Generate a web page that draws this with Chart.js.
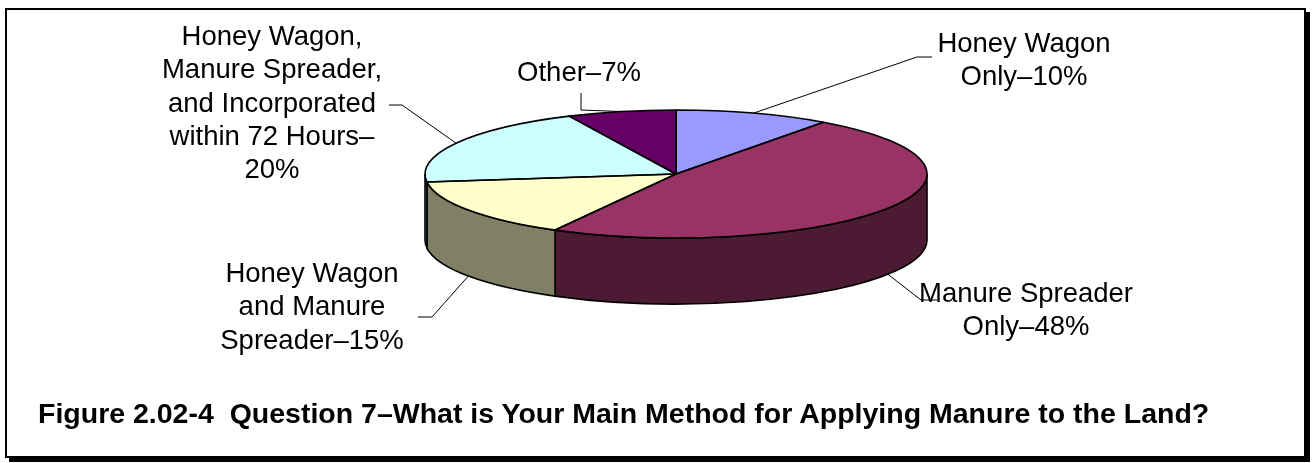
<!DOCTYPE html>
<html>
<head>
<meta charset="utf-8">
<script src="https://cdn.jsdelivr.net/npm/chart.js@4"></script>
<style>
html, body { margin: 0; padding: 0; background: #fff; }
#wrap { position: relative; width: 1312px; height: 463px; overflow: hidden; }
#box { position: absolute; left: 5px; top: 8px; width: 1297px; height: 446px; border: 2px solid #000; box-shadow: 4px 4px 0 #000; }
#chart { position: absolute; left: 0; top: 0; }
#caption { position: absolute; left: 38px; top: 397px; font: bold 28.5px "Liberation Sans", Arial, sans-serif; line-height: 32px; white-space: pre; color: #000; }
</style>
</head>
<body>
<div id="wrap">
  <div id="box"></div>
  <canvas id="chart" width="1312" height="463"></canvas>
  <div id="caption">Figure 2.02-4  Question 7–What is Your Main Method for Applying Manure to the Land?</div>
</div>
<script>
// dữ liệu
const categories = [
    "Honey Wagon Only",
    "Manure Spreader Only",
    "Honey Wagon and Manure Spreader",
    "Honey Wagon, Manure Spreader, and Incorporated within 72 Hours",
    "Other"
];
const percents = [10, 48, 15, 20, 7];
const sliceColors = ["#9999FF", "#993366", "#FFFFCC", "#CCFFFF", "#660066"];
// nhãn như in trên hình, {v} = giá trị
const labelLines = [
    ["Honey Wagon", "Only–{v}%"],
    ["Manure Spreader", "Only–{v}%"],
    ["Honey Wagon", "and Manure", "Spreader–{v}%"],
    ["Honey Wagon,", "Manure Spreader,", "and Incorporated", "within 72 Hours–", "{v}%"],
    ["Other–{v}%"]
];

// vị trí nhãn và đường dẫn
const labelSpots = [
    { x: 1024, y: 52, path: [[917, 57], [932, 57]] },
    { x: 1026, y: 302, path: [[921, 300], [937, 300]] },
    { x: 312, y: 282, path: [[432, 317], [418, 317]] },
    { x: 272, y: 45, path: [[402, 105], [389, 105]] },
    { x: 579, y: 81, path: [[581, 110], [581, 93]] }
];
const depth = 66;
const lineGap = 33.3;

function shade(hex) {
    const n = parseInt(hex.slice(1), 16);
    const r = (n >> 16) & 255, g = (n >> 8) & 255, b = n & 255;
    return "rgb(" + Math.round(r / 2) + "," + Math.round(g / 2) + "," + Math.round(b / 2) + ")";
}

function geom(chart) {
    const arcs = chart.getDatasetMeta(0).data;
    const area = chart.chartArea;
    return {
        arcs: arcs,
        cx: arcs[0].x,
        cy: arcs[0].y,
        ry: arcs[0].outerRadius,
        rx: (area.right - area.left) / 2
    };
}

const pie3d = {
    id: "pie3d",
    beforeDatasetsDraw(chart) {
        const ctx = chart.ctx;
        const g = geom(chart);
        // mặt bên phía trước
        g.arcs.forEach((arc, i) => {
            const a0 = Math.max(arc.startAngle, 0);
            const a1 = Math.min(arc.endAngle, Math.PI);
            if (a1 <= a0) return;
            ctx.beginPath();
            ctx.ellipse(g.cx, g.cy, g.rx, g.ry, 0, a0, a1);
            ctx.ellipse(g.cx, g.cy + depth, g.rx, g.ry, 0, a1, a0, true);
            ctx.closePath();
            ctx.fillStyle = shade(sliceColors[i]);
            ctx.fill();
            ctx.lineWidth = 1.6;
            ctx.strokeStyle = "#000";
            ctx.stroke();
        });
        // kéo giãn hình tròn thành elip
        ctx.save();
        ctx.translate(g.cx, g.cy);
        ctx.scale(g.rx / g.ry, 1);
        ctx.translate(-g.cx, -g.cy);
    },
    afterDatasetsDraw(chart) {
        const ctx = chart.ctx;
        ctx.restore();
        const g = geom(chart);
        // viền mặt trên
        ctx.lineWidth = 1.6;
        ctx.strokeStyle = "#000";
        ctx.lineJoin = "round";
        g.arcs.forEach(arc => {
            ctx.beginPath();
            ctx.moveTo(g.cx, g.cy);
            ctx.ellipse(g.cx, g.cy, g.rx, g.ry, 0, arc.startAngle, arc.endAngle);
            ctx.closePath();
            ctx.stroke();
        });
        // nhãn + đường dẫn
        ctx.font = '27.5px "Liberation Sans", Arial, sans-serif';
        ctx.textAlign = "center";
        ctx.textBaseline = "alphabetic";
        ctx.fillStyle = "#000";
        ctx.lineWidth = 1;
        g.arcs.forEach((arc, i) => {
            const spot = labelSpots[i];
            labelLines[i].forEach((t, k) => {
                ctx.fillText(t.replace("{v}", percents[i]), spot.x, spot.y + k * lineGap);
            });
            const mid = (arc.startAngle + arc.endAngle) / 2;
            let sx = g.cx + g.rx * Math.cos(mid);
            let sy = g.cy + g.ry * Math.sin(mid);
            if (Math.sin(mid) > 0) sy += depth;
            ctx.beginPath();
            ctx.moveTo(sx, sy);
            spot.path.forEach(p => ctx.lineTo(p[0], p[1]));
            ctx.stroke();
        });
    }
};

const ctx = document.getElementById("chart").getContext("2d");
new Chart(ctx, {
    type: "pie",
    data: {
        labels: categories,
        datasets: [{
            data: percents,
            backgroundColor: sliceColors,
            borderWidth: 0,
            clip: false
        }]
    },
    options: {
        responsive: false,
        animation: false,
        events: [],
        devicePixelRatio: 1,
        layout: {
            padding: { left: 425, right: 385, top: 110, bottom: 225 }
        },
        plugins: {
            legend: { display: false },
            tooltip: { enabled: false }
        }
    },
    plugins: [pie3d]
});
</script>
</body>
</html>
